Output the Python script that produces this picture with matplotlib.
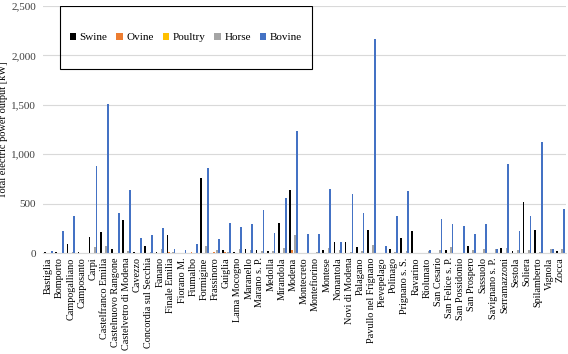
import numpy as np
import matplotlib.pyplot as plt
from matplotlib.patches import Rectangle
from matplotlib.ticker import FuncFormatter

plt.rcParams["font.family"] = ["Liberation Serif", "DejaVu Serif"]

municipalities = [
    "Bastiglia", "Bomporto", "Campogalliano", "Camposanto", "Carpi",
    "Castelfranco Emilia", "Castelnuovo Rangone", "Castelvetro di Modena",
    "Cavezzo", "Concordia sul Secchia", "Fanano", "Finale Emilia",
    "Fiorano M.", "Fiumalbo", "Formigine", "Frassinoro", "Guiglia",
    "Lama Mocogno", "Maranello", "Marano s. P.", "Medolla", "Mirandola",
    "Modena", "Montecreto", "Montefiorino", "Montese", "Nonantola",
    "Novi di Modena", "Palagano", "Pavullo nel Frignano", "Pievepelago",
    "Polinago", "Prignano s. S.", "Ravarino", "Riolunato", "San Cesario",
    "San Felice s. P.", "San Possidonio", "San Prospero", "Sassuolo",
    "Savignano s. P.", "Serramazzoni", "Sestola", "Soliera", "Spilamberto",
    "Vignola", "Zocca",
]

# kW
swine = [15, 10, 95, 8, 160, 210, 45, 330, 10, 70, 13, 180, 0, 0, 760, 0, 35,
         13, 45, 28, 25, 307, 638, 0, 0, 30, 115, 111, 63, 230, 0, 40, 150, 222,
         0, 5, 35, 5, 70, 0, 5, 50, 20, 520, 232, 0, 25]
ovine = [0, 0, 0, 0, 0, 0, 0, 0, 0, 0, 0, 10, 0, 15, 0, 10, 10,
         0, 0, 0, 0, 0, 33, 0, 0, 0, 0, 0, 0, 0, 0, 0, 0, 0,
         0, 0, 0, 0, 0, 0, 0, 0, 0, 0, 0, 0, 0]
poultry = [0] * 47
horse = [3, 3, 8, 5, 65, 75, 5, 20, 3, 13, 42, 15, 3, 0, 70, 35, 13,
         40, 30, 18, 18, 48, 180, 5, 8, 50, 30, 10, 25, 80, 3, 10, 20, 5,
         22, 30, 65, 5, 30, 40, 45, 50, 30, 30, 10, 37, 40]
bovine = [20, 225, 375, 0, 880, 1510, 410, 640, 150, 185, 250, 40, 30, 90, 865,
          140, 300, 265, 295, 435, 200, 560, 1235, 190, 190, 650, 115, 597, 410,
          2170, 68, 378, 630, 0, 30, 350, 295, 275, 190, 290, 45, 905, 220, 375,
          1125, 40, 450]

series = [
    ("Swine", swine, "#000000"),
    ("Ovine", ovine, "#ED7D31"),
    ("Poultry", poultry, "#FFC000"),
    ("Horse", horse, "#A5A5A5"),
    ("Bovine", bovine, "#4472C4"),
]

fig = plt.figure(figsize=(5.68, 3.54), dpi=100)
ax = fig.add_axes([0.0757, 0.285, 0.9208, 0.698])

x = np.arange(len(municipalities))
w = 0.155
for i, (name, vals, color) in enumerate(series):
    ax.bar(x + (i - 2) * w, vals, width=w, color=color, label=name)

ax.set_xlim(-0.5, len(municipalities) - 0.5)
ax.set_ylim(0, 2500)
ax.set_yticks(range(0, 2501, 500))
ax.yaxis.set_major_formatter(FuncFormatter(lambda v, p: f"{int(v):,}"))
ax.set_xticks(x)
ax.set_xticklabels(municipalities, rotation=90, fontsize=7.3)
ax.tick_params(axis="y", labelsize=8, length=0, pad=5, colors="#404040")
ax.tick_params(axis="x", length=0, pad=3)
ax.set_ylabel("Total electric power output [kW]", fontsize=7.5)
ax.yaxis.set_label_coords(-0.067, 0.5)

ax.grid(axis="y", color="#D9D9D9", linewidth=0.8)
ax.set_axisbelow(True)
for s in ["top", "right", "left"]:
    ax.spines[s].set_visible(False)
ax.spines["bottom"].set_color("#D9D9D9")

# legend box
ax.add_patch(Rectangle((0.0325, 0.745), 0.4815, 0.255, transform=ax.transAxes,
                       fill=False, edgecolor="black", linewidth=0.8, zorder=5))
ax.legend(loc="center", bbox_to_anchor=(0.273, 0.8725), ncol=5, frameon=False,
          fontsize=8, handlelength=0.6, handleheight=0.6, handletextpad=0.3,
          columnspacing=0.8)

fig.savefig("out.png", dpi=100)
